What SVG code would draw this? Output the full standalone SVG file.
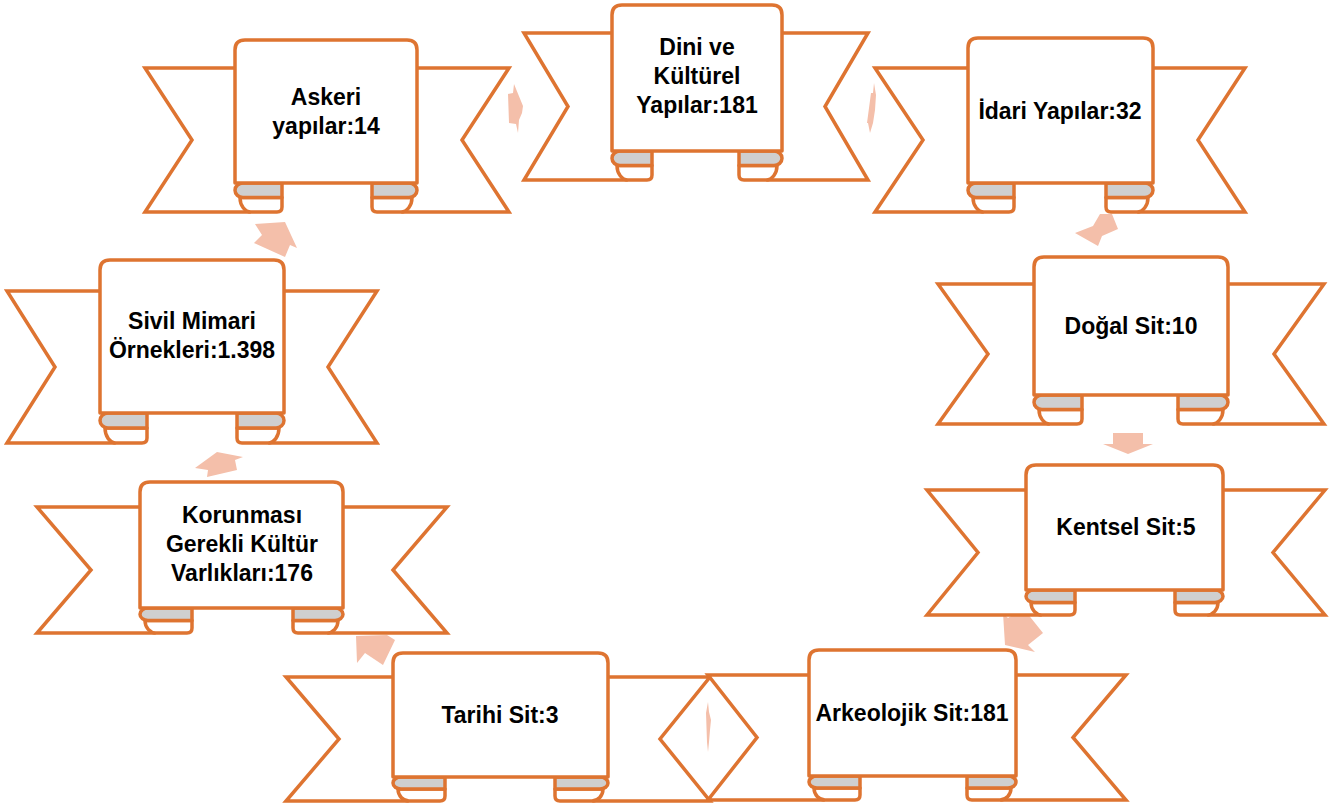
<svg xmlns="http://www.w3.org/2000/svg" width="1330" height="803" viewBox="0 0 1330 803">
<style>
.t{fill:#fff;stroke:#DE7431;stroke-width:3.5;stroke-linejoin:miter}
.l{fill:#fff;stroke:#DE7431;stroke-width:3.5;stroke-linejoin:round}
.b{fill:#CFCFCF;stroke:#DE7431;stroke-width:3.5;stroke-linejoin:round}
.p{fill:#fff;stroke:#DE7431;stroke-width:3.5;stroke-linejoin:round}
.a{fill:#F4BFAA;stroke:none}
text{font-family:"Liberation Sans",Arial,sans-serif;font-weight:bold;font-size:23px;fill:#000;text-anchor:middle}
</style>
<rect width="1330" height="803" fill="#fff"/>
<g id="connectors">
<polygon class="a" points="508,94 513,93 514,84 523,106 522,113 519,120 518,133 516,124 509,123"/>
<polygon class="a" points="871,93 873,93 874,83 876,95 875,110 873,123 870,133 868,123 867,123"/>
<polygon class="a" points="1075,233 1093,226 1100,214 1112,214 1118,229 1102,236 1098,246"/>
<polygon class="a" points="1113,433 1143,433 1143,444 1153,444 1128,454 1103,444 1113,444"/>
<polygon class="a" points="1003,613 1008,618 1023,608 1043,633 1028,645 1035,652 1005,645"/>
<polygon class="a" points="708,702 709,712 711,720 710,730 709,742 708,752 707,742 706,713"/>
<polygon class="a" points="356,636 387,635 395,640 383,665 365,653 357,663"/>
<polygon class="a" points="195,468 217,452 243,457 235,460 237,470 207,477 208,470"/>
<polygon class="a" points="255,224 285,222 297,248 290,245 285,257 254,243 262,235"/>
</g>
<g id="askeri">
<path class="t" d="M145,68 H249 V212 H145 L192,140 Z"/>
<path class="t" d="M509,68 H403 V212 H509 L462,140 Z"/>
<path class="l" d="M282,197.5 V207 Q282,212 277,212 H251 A11,14.5 0 0 1 240,197.5 Z"/>
<path class="l" d="M372,197.5 V207 Q372,212 377,212 H401 A11,14.5 0 0 0 412,197.5 Z"/>
<path class="b" d="M282,183 V197.5 H243 A8,7.25 0 0 1 243,183 Z"/>
<path class="b" d="M372,183 V197.5 H409 A8,7.25 0 0 0 409,183 Z"/>
<path class="p" d="M235,183 V50 Q235,40 245,40 H407 Q417,40 417,50 V183 Z"/>
<text x="326" y="105">Askeri</text>
<text x="326" y="134">yapılar:14</text>
</g>
<g id="dini">
<path class="t" d="M524,33 H626 V180 H524 L568,106.5 Z"/>
<path class="t" d="M868,33 H768 V180 H868 L825,106.5 Z"/>
<path class="l" d="M652,165.5 V175 Q652,180 647,180 H628 A11,14.5 0 0 1 617,165.5 Z"/>
<path class="l" d="M739,165.5 V175 Q739,180 744,180 H766 A11,14.5 0 0 0 777,165.5 Z"/>
<path class="b" d="M652,151 V165.5 H620 A8,7.25 0 0 1 620,151 Z"/>
<path class="b" d="M739,151 V165.5 H774 A8,7.25 0 0 0 774,151 Z"/>
<path class="p" d="M612,151 V15 Q612,5 622,5 H772 Q782,5 782,15 V151 Z"/>
<text x="697" y="55">Dini ve</text>
<text x="697" y="84">Kültürel</text>
<text x="697" y="113">Yapılar:181</text>
</g>
<g id="idari">
<path class="t" d="M875,68 H982 V212 H875 L923,140 Z"/>
<path class="t" d="M1245,68 H1139 V212 H1245 L1198,140 Z"/>
<path class="l" d="M1014,197.5 V207 Q1014,212 1009,212 H984 A11,14.5 0 0 1 973,197.5 Z"/>
<path class="l" d="M1106,197.5 V207 Q1106,212 1111,212 H1137 A11,14.5 0 0 0 1148,197.5 Z"/>
<path class="b" d="M1014,183 V197.5 H976 A8,7.25 0 0 1 976,183 Z"/>
<path class="b" d="M1106,183 V197.5 H1145 A8,7.25 0 0 0 1145,183 Z"/>
<path class="p" d="M968,183 V48 Q968,38 978,38 H1143 Q1153,38 1153,48 V183 Z"/>
<text x="1060" y="119">İdari Yapılar:32</text>
</g>
<g id="dogal">
<path class="t" d="M938,284 H1048 V424 H938 L988,354 Z"/>
<path class="t" d="M1324,284 H1214 V424 H1324 L1274,354 Z"/>
<path class="l" d="M1082,409.5 V419 Q1082,424 1077,424 H1050 A11,14.5 0 0 1 1039,409.5 Z"/>
<path class="l" d="M1178,409.5 V419 Q1178,424 1183,424 H1212 A11,14.5 0 0 0 1223,409.5 Z"/>
<path class="b" d="M1082,395 V409.5 H1042 A8,7.25 0 0 1 1042,395 Z"/>
<path class="b" d="M1178,395 V409.5 H1220 A8,7.25 0 0 0 1220,395 Z"/>
<path class="p" d="M1034,395 V267 Q1034,257 1044,257 H1218 Q1228,257 1228,267 V395 Z"/>
<text x="1131" y="334">Doğal Sit:10</text>
</g>
<g id="kentsel">
<path class="t" d="M927,490 H1040 V615 H927 L978,552.5 Z"/>
<path class="t" d="M1325,490 H1209 V615 H1325 L1273,552.5 Z"/>
<path class="l" d="M1075,602.5 V610 Q1075,615 1070,615 H1042 A11,12.5 0 0 1 1031,602.5 Z"/>
<path class="l" d="M1175,602.5 V610 Q1175,615 1180,615 H1207 A11,12.5 0 0 0 1218,602.5 Z"/>
<path class="b" d="M1075,590 V602.5 H1034 A8,6.25 0 0 1 1034,590 Z"/>
<path class="b" d="M1175,590 V602.5 H1215 A8,6.25 0 0 0 1215,590 Z"/>
<path class="p" d="M1026,590 V475 Q1026,465 1036,465 H1213 Q1223,465 1223,475 V590 Z"/>
<text x="1126" y="535">Kentsel Sit:5</text>
</g>
<g id="tarihi">
<path class="t" d="M286,677 H407 V801 H286 L339,739 Z"/>
<path class="t" d="M710,677 H594 V801 H710 L660,739 Z"/>
<path class="l" d="M445,789 V796 Q445,801 440,801 H409 A11,12 0 0 1 398,789 Z"/>
<path class="l" d="M555,789 V796 Q555,801 560,801 H592 A11,12 0 0 0 603,789 Z"/>
<path class="b" d="M445,777 V789 H401 A8,6 0 0 1 401,777 Z"/>
<path class="b" d="M555,777 V789 H600 A8,6 0 0 0 600,777 Z"/>
<path class="p" d="M393,777 V663 Q393,653 403,653 H598 Q608,653 608,663 V777 Z"/>
<text x="500" y="723">Tarihi Sit:3</text>
</g>
<g id="arkeolojik">
<path class="t" d="M708,675 H823 V800 H708 L757,737.5 Z"/>
<path class="t" d="M1126,675 H1002 V800 H1126 L1073,737.5 Z"/>
<path class="l" d="M860,788 V795 Q860,800 855,800 H825 A11,12 0 0 1 814,788 Z"/>
<path class="l" d="M967,788 V795 Q967,800 972,800 H1000 A11,12 0 0 0 1011,788 Z"/>
<path class="b" d="M860,776 V788 H817 A8,6 0 0 1 817,776 Z"/>
<path class="b" d="M967,776 V788 H1008 A8,6 0 0 0 1008,776 Z"/>
<path class="p" d="M809,776 V660 Q809,650 819,650 H1006 Q1016,650 1016,660 V776 Z"/>
<text x="912" y="721">Arkeolojik Sit:181</text>
</g>
<g id="korunmasi">
<path class="t" d="M37,507 H154 V633 H37 L91,570 Z"/>
<path class="t" d="M447,507 H329 V633 H447 L393,570 Z"/>
<path class="l" d="M192,620.5 V628 Q192,633 187,633 H156 A11,12.5 0 0 1 145,620.5 Z"/>
<path class="l" d="M293,620.5 V628 Q293,633 298,633 H327 A11,12.5 0 0 0 338,620.5 Z"/>
<path class="b" d="M192,608 V620.5 H148 A8,6.25 0 0 1 148,608 Z"/>
<path class="b" d="M293,608 V620.5 H335 A8,6.25 0 0 0 335,608 Z"/>
<path class="p" d="M140,608 V492 Q140,482 150,482 H333 Q343,482 343,492 V608 Z"/>
<text x="242" y="523">Korunması</text>
<text x="242" y="552">Gerekli Kültür</text>
<text x="242" y="581">Varlıkları:176</text>
</g>
<g id="sivil">
<path class="t" d="M7,291 H114 V443 H7 L55,367 Z"/>
<path class="t" d="M377,291 H270 V443 H377 L328,367 Z"/>
<path class="l" d="M147,428 V438 Q147,443 142,443 H116 A11,15 0 0 1 105,428 Z"/>
<path class="l" d="M237,428 V438 Q237,443 242,443 H268 A11,15 0 0 0 279,428 Z"/>
<path class="b" d="M147,413 V428 H108 A8,7.5 0 0 1 108,413 Z"/>
<path class="b" d="M237,413 V428 H276 A8,7.5 0 0 0 276,413 Z"/>
<path class="p" d="M100,413 V270 Q100,260 110,260 H274 Q284,260 284,270 V413 Z"/>
<text x="192" y="329">Sivil Mimari</text>
<text x="192" y="358">Örnekleri:1.398</text>
</g>
</svg>
